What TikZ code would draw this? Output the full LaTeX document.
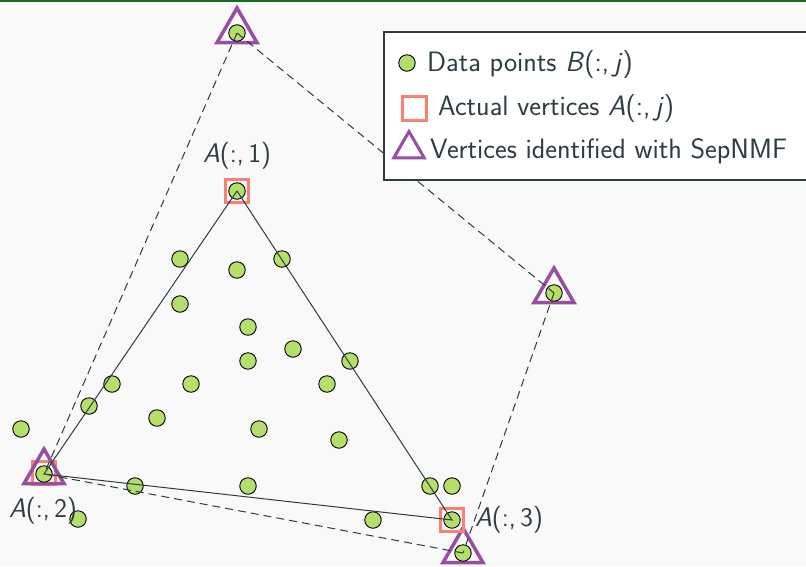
\documentclass[tikz,border=0pt]{standalone}
\usetikzlibrary{shapes.geometric}
\definecolor{bgc}{RGB}{249,249,249}
\definecolor{topgreen}{RGB}{24,110,30}
\definecolor{dark}{RGB}{45,60,64}
\definecolor{ptgreen}{RGB}{181,222,106}
\definecolor{sqsalmon}{RGB}{250,128,114}
\definecolor{tripurple}{RGB}{152,78,163}
\tikzset{
  pt/.style={circle, draw=black, fill=ptgreen, line width=0.9pt, minimum size=16.5pt, inner sep=0pt},
  sq/.style={rectangle, draw=sqsalmon, line width=3pt, minimum size=23pt, inner sep=0pt},
  tri/.style={regular polygon, regular polygon sides=3, draw=tripurple, line width=3.5pt, minimum size=46pt, inner sep=0pt},
  legtri/.style={regular polygon, regular polygon sides=3, draw=tripurple, line width=3pt, minimum size=35pt, inner sep=0pt},
  edge/.style={draw=dark, line width=1pt},
  dedge/.style={draw=dark, line width=1pt, dash pattern=on 8pt off 5pt},
  lab/.style={text=dark, font=\sffamily\fontsize{27}{32}\selectfont, inner sep=0pt},
  legtext/.style={text=dark, font=\sffamily\fontsize{28}{33}\selectfont, inner sep=0pt, anchor=base west},
}
\begin{document}
\begin{tikzpicture}[x=1pt,y=-1pt]
\clip (0,0) rectangle (806,566);
\fill[bgc] (0,0) rectangle (806,566);
\fill[topgreen] (0,0) rectangle (806,2);
% markers
\node[tri] (tt) at (237,31) {};
\node[tri] (tr) at (554,291) {};
\node[tri] (tb) at (463,551) {};
\node[sq] (s1) at (237,191) {};
\node[sq] (s2) at (44,473) {};
\node[sq] (s3) at (452,520) {};
\node[tri] (t2) at (44,472) {};
% data points
\node[pt] (t) at (237,33) {};
\node[pt] (r) at (554,293) {};
\node[pt] (b) at (463,553) {};
\node[pt] (a1) at (237,191) {};
\node[pt] (a2) at (44,474) {};
\node[pt] (a3) at (452,520) {};
\foreach \x/\y [count=\i] in {180/259,237/270,282/259,180/304,248/327,293/349,248/361,350/361,112/384,191/384,327/384,89/406,157/418,259/429,339/440,21/429,135/486,248/486,430/486,452/486,78/519,373/520}
  \node[pt] (p\i) at (\x,\y) {};
% solid triangle
\draw[edge] (a1.center) -- (a2.center) -- (a3.center) -- (a1.center);
% dashed hull
\draw[dedge] (t.center) -- (a2.center);
\draw[dedge] (t.center) -- (r.center);
\draw[dedge] (r.center) -- (b.center);
\draw[dedge] (b.center) -- (a2.center);
% vertex labels
\node[lab, anchor=base] (l1) at (237,162) {\textsl{A}(:,\,1)};
\node[lab, anchor=base] (l2) at (43,517) {\textsl{A}(:,\,2)};
\node[lab, anchor=base] (l3) at (509,526) {\textsl{A}(:,\,3)};
% legend
\draw[draw=dark, fill=white, line width=1.2pt] (384,32) rectangle (830,180);
\node[pt] (lg1) at (407,63) {};
\node[legtext] (lt1) at (427,71) {Data points \textsl{B}(:,\,\textsl{j})};
\node[sq, minimum size=24pt] (lg2) at (414,108) {};
\node[legtext] (lt2) at (438,115) {Actual vertices \textsl{A}(:,\,\textsl{j})};
\node[legtri] (lg3) at (409,149) {};
\node[legtext] (lt3) at (430,158) {Vertices identified with SepNMF};
\end{tikzpicture}
\end{document}
